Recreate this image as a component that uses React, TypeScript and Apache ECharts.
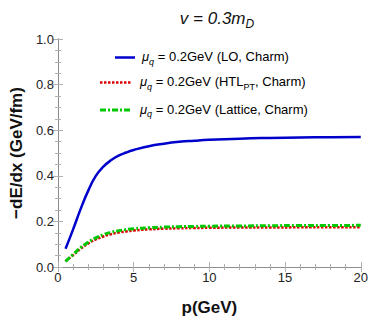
import React, { useEffect, useRef } from "react";
import * as echarts from "echarts";

const momentum = [0.5, 1, 1.5, 2, 2.5, 3, 3.5, 4, 4.5, 5, 6, 7, 8, 9, 10, 12, 14, 16, 18, 20];
const lossLO = [0.08, 0.165, 0.255, 0.335, 0.4, 0.44, 0.468, 0.488, 0.502, 0.513, 0.53, 0.541, 0.549, 0.554, 0.558, 0.563, 0.566, 0.568, 0.569, 0.57];
const lossHTL = [0.025, 0.052, 0.08, 0.103, 0.121, 0.134, 0.144, 0.151, 0.156, 0.16, 0.165, 0.168, 0.17, 0.171, 0.172, 0.173, 0.173, 0.174, 0.174, 0.174];
const lossLattice = [0.025, 0.055, 0.085, 0.109, 0.128, 0.142, 0.152, 0.159, 0.164, 0.168, 0.172, 0.175, 0.177, 0.178, 0.179, 0.18, 0.181, 0.182, 0.182, 0.183];
const yTicks = [0, 0.2, 0.4, 0.6, 0.8, 1.0];
const xTicks = [0, 5, 10, 15, 20];

const FONT = "'Liberation Sans', Arial, sans-serif";
const BLUE = "#0000cc";
const RED = "#dd0000";
const GREEN = "#00c800";
const FRAME = "#8c8c8c";
const TICK = "#b0b0b0";

const pairs = (ys: number[]) => momentum.map((p, i) => [p, ys[i]]);

const legendRich = {
  mu: { fontFamily: FONT, fontSize: 13, fontStyle: "italic", color: "#111", verticalAlign: "top", lineHeight: 15 },
  sub: { fontFamily: FONT, fontSize: 9, color: "#111", verticalAlign: "top", lineHeight: 10, padding: [7, 0, 0, 0] },
  subi: { fontFamily: FONT, fontSize: 9, fontStyle: "italic", color: "#111", verticalAlign: "top", lineHeight: 10, padding: [7, 0, 0, 0] },
  t: { fontFamily: FONT, fontSize: 13, color: "#111", verticalAlign: "top", lineHeight: 15 },
};

export default function App() {
  const ref = useRef<HTMLDivElement>(null);
  useEffect(() => {
    if (!ref.current) return;
    const chart = echarts.init(ref.current, undefined, { renderer: "svg" });
    const axisCommon = {
      type: "value" as const,
      axisLine: { show: true, lineStyle: { color: FRAME, width: 1 } },
      axisTick: { show: true, inside: true, length: 5, lineStyle: { color: TICK } },
      splitLine: { show: false },
    };
    chart.setOption({
      animation: false,
      backgroundColor: "#fff",
      title: {
        text: "{v|v = 0.3m}{d|D}",
        left: 212,
        top: 5,
        textAlign: "center",
        textStyle: {
          fontWeight: "normal",
          rich: {
            v: { fontFamily: FONT, fontSize: 17, fontStyle: "italic", fontWeight: "normal", color: "#111", verticalAlign: "top", lineHeight: 19 },
            d: { fontFamily: FONT, fontSize: 12, fontStyle: "italic", fontWeight: "normal", color: "#111", verticalAlign: "top", lineHeight: 13, padding: [8, 0, 0, 0] },
          },
        },
      },
      grid: { left: 52, right: 10, top: 39, bottom: 60 },
      xAxis: [
        {
          ...axisCommon,
          min: 0,
          max: 20,
          interval: 5,
          minorTick: { show: true, splitNumber: 5, length: 3, lineStyle: { color: TICK } },
          axisLabel: {
            fontFamily: FONT,
            fontSize: 13,
            color: "#222",
            margin: 4,
            customValues: xTicks,
          },
          name: "p(GeV)",
          nameLocation: "middle",
          nameGap: 32,
          nameTextStyle: { fontFamily: FONT, fontSize: 17, fontWeight: "bold", color: "#111" },
        },
        {
          ...axisCommon,
          position: "top",
          min: 0,
          max: 20,
          interval: 5,
          minorTick: { show: true, splitNumber: 5, length: 3, lineStyle: { color: TICK } },
          axisLabel: { show: false },
        },
      ],
      yAxis: [
        {
          ...axisCommon,
          min: 0,
          max: 1,
          interval: 0.2,
          minorTick: { show: true, splitNumber: 4, length: 3, lineStyle: { color: TICK } },
          axisLabel: {
            fontFamily: FONT,
            fontSize: 13,
            color: "#222",
            margin: 4,
            customValues: yTicks,
            formatter: (v: number) => v.toFixed(1),
          },
          name: "\u2212dE/dx (GeV/fm)",
          nameLocation: "middle",
          nameGap: 25,
          nameRotate: 90,
          nameTextStyle: { fontFamily: FONT, fontSize: 17, fontWeight: "bold", color: "#111" },
        },
        {
          ...axisCommon,
          position: "right",
          min: 0,
          max: 1,
          interval: 0.2,
          minorTick: { show: true, splitNumber: 4, length: 3, lineStyle: { color: TICK } },
          axisLabel: { show: false },
        },
      ],
      series: [
        {
          name: "LO",
          type: "line",
          smooth: true,
          showSymbol: false,
          data: pairs(lossLO),
          lineStyle: { color: BLUE, width: 2.5 },
        },
        {
          name: "HTL",
          type: "line",
          smooth: true,
          showSymbol: false,
          data: pairs(lossHTL),
          lineStyle: { color: RED, width: 2.5, type: [2.5, 1.5] },
        },
        {
          name: "Lattice",
          type: "line",
          smooth: true,
          showSymbol: false,
          data: pairs(lossLattice),
          lineStyle: { color: GREEN, width: 3, type: [6, 2, 2, 2] },
        },
      ],
      graphic: [
        { type: "line", shape: { x1: 115, y1: 57.5, x2: 135, y2: 57.5 }, style: { stroke: BLUE, lineWidth: 2.5 } },
        {
          type: "text",
          x: 142,
          y: 50,
          style: { text: "{mu|\u03bc}{subi|q}{t| = 0.2GeV (LO, Charm)}", rich: legendRich },
        },
        { type: "line", shape: { x1: 100, y1: 82.5, x2: 132, y2: 82.5 }, style: { stroke: RED, lineWidth: 2.5, lineDash: [2.5, 1.5] } },
        {
          type: "text",
          x: 140,
          y: 75,
          style: { text: "{mu|\u03bc}{subi|q}{t| = 0.2GeV (HTL}{sub|PT}{t|, Charm)}", rich: legendRich },
        },
        { type: "line", shape: { x1: 100, y1: 110, x2: 130, y2: 110 }, style: { stroke: GREEN, lineWidth: 3, lineDash: [6, 2, 2, 2] } },
        {
          type: "text",
          x: 140,
          y: 102.5,
          style: { text: "{mu|\u03bc}{subi|q}{t| = 0.2GeV (Lattice, Charm)}", rich: legendRich },
        },
      ],
    });
    return () => chart.dispose();
  }, []);
  return <div ref={ref} style={{ position: "absolute", left: 0, top: 0, width: 371, height: 327 }} />;
}
